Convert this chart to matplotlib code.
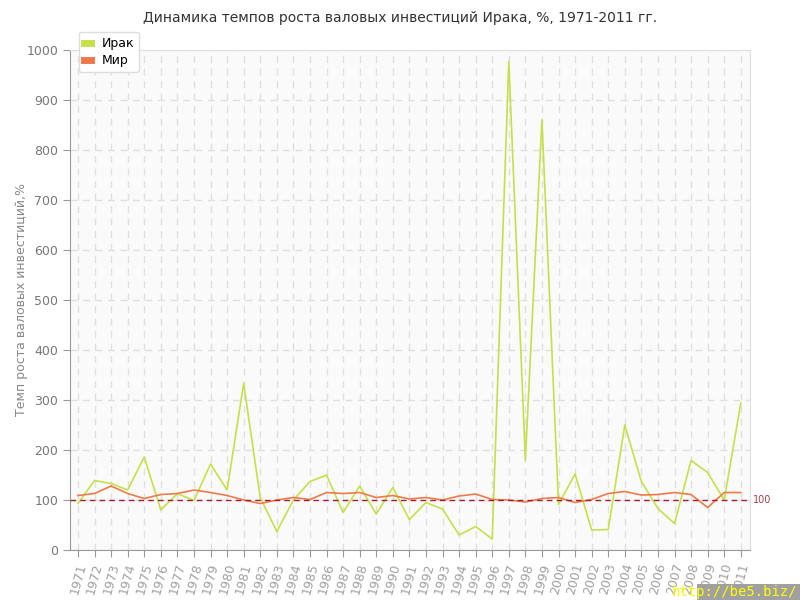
import matplotlib.pyplot as plt
import numpy as np
from matplotlib.patches import Rectangle

years = list(range(1971, 2012))
iraq = [93, 139, 133, 120, 186, 80, 113, 99, 172, 120,
        333, 105, 37, 100, 137, 150, 75, 128, 72, 125,
        61, 95, 82, 30, 47, 22, 977, 180, 860, 91,
        152, 40, 41, 250, 137, 83, 53, 179, 155, 100,
        294]
world = [109, 113, 128, 113, 103, 111, 113, 120, 115, 109,
         100, 93, 100, 105, 101, 115, 113, 115, 105, 109,
         102, 105, 100, 108, 112, 101, 100, 96, 103, 105,
         95, 101, 113, 117, 110, 111, 115, 111, 85, 115,
         115]
ref_level = 100

title = "Динамика темпов роста валовых инвестиций Ирака, %, 1971-2011 гг."
ylabel = "Темп роста валовых инвестиций,%"

fig = plt.figure(figsize=(8, 6), dpi=100)
ax = fig.add_axes([0.0875, 0.0833, 0.8505, 0.8334])
ax.set_facecolor('#fafafa')

ax.plot(years, iraq, color='#c5e04b', lw=1.2, label='Ирак', zorder=3)
ax.plot(years, world, color='#ee7a4c', lw=1.2, label='Мир', zorder=3)
ax.axhline(ref_level, color='#a02030', lw=1.0, ls=(0, (4, 3)), zorder=4)
ax.text(2011.75, ref_level, '100', color='#a04050', fontsize=7, va='center', ha='left')

ax.set_xlim(1970.52, 2011.58)
ax.set_ylim(0, 1000)
ax.set_xticks(years)
ax.set_xticklabels([str(y) for y in years], rotation=75, color='#a0a0a0', fontsize=9)
ax.set_yticks(range(0, 1001, 100))
ax.tick_params(axis='y', colors='#999999', labelsize=9, length=5, color='#999999')
ax.tick_params(axis='x', length=5, color='#999999')
for lbl in ax.get_yticklabels():
    lbl.set_color('#777777')

ax.grid(True, color='#e0e0e0', ls=(0, (5, 4)), lw=1)
ax.spines['left'].set_color('#999999')
ax.spines['bottom'].set_color('#999999')
ax.spines['top'].set_color('#e0e0e0')
ax.spines['right'].set_color('#e0e0e0')

ax.set_ylabel(ylabel, color='#888888', fontsize=9)
ax.yaxis.set_label_coords(-0.061, 0.5)
fig.text(0.5, 0.97, title, ha='center', va='center', fontsize=10, color='#333333')

leg = ax.legend(loc='upper left', bbox_to_anchor=(0.013, 1.036), frameon=True,
                fontsize=9, handlelength=0.6, handleheight=0.6, borderaxespad=0,
                borderpad=0.4, labelspacing=0.3, fancybox=True, framealpha=1)
leg.get_frame().set_edgecolor('#dddddd')
leg.set_zorder(10)
for h in leg.legend_handles:
    h.set_linewidth(5)

fig.patches.append(Rectangle((0.871, 0.0), 0.129, 0.026, transform=fig.transFigure,
                             facecolor='#a0a0a0', edgecolor='none'))
fig.text(0.997, 0.002, 'http://be5.biz/', ha='right', va='bottom', fontsize=10,
         color='#ffff00', family='DejaVu Sans Mono')

fig.savefig('out.png', dpi=100)
